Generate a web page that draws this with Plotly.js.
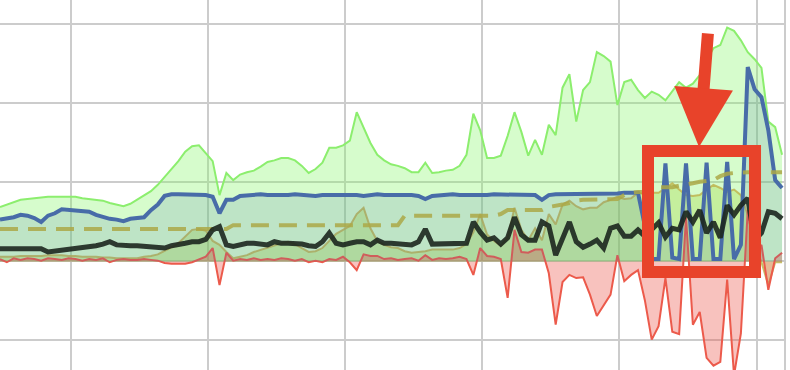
<!DOCTYPE html>
<html>
<head>
<meta charset="utf-8">
<script src="https://cdn.plot.ly/plotly-3.0.1.min.js"></script>
<style>html,body{margin:0;padding:0;background:#fff;}#chart{width:790px;height:370px;}</style>
</head>
<body>
<div id="chart"></div>
<script>
// Values (arbitrary units, gridlines every 100; x is the sample index)
const greenEnvelope = [
  69, 72, 75, 78, 79, 80, 81, 82, 82, 82,
  82, 82, 80, 79, 78, 77, 74, 72, 70, 73,
  78, 83, 89, 97, 107, 118, 127, 139, 146, 147,
  137, 127, 84, 112, 103, 110, 113, 115, 120, 126,
  128, 131, 131, 128, 121, 112, 117, 125, 144, 144,
  147, 153, 189, 170, 150, 135, 128, 123, 121, 118,
  113, 113, 125, 112, 113, 115, 116, 121, 135, 187,
  166, 131, 131, 134, 159, 189, 164, 134, 154, 135,
  173, 160, 220, 237, 177, 217, 227, 265, 260, 253,
  198, 227, 230, 217, 207, 215, 211, 204, 215, 227,
  220, 225, 236, 255, 270, 274, 296, 292, 280, 265,
  256, 245, 177, 170, 135
];
const blueSeries = [
  53, 54, 56, 59, 58, 55, 50, 58, 61, 66,
  65, 65, 64, 63, 59, 56, 54, 53, 51, 54,
  55, 56, 65, 72, 83, 85, 85, 85, 85, 84,
  84, 82, 61, 78, 78, 83, 84, 84, 85, 84,
  84, 83, 84, 85, 84, 84, 83, 84, 84, 85,
  84, 84, 84, 83, 84, 85, 84, 84, 84, 85,
  84, 83, 79, 83, 84, 84, 85, 84, 84, 83,
  84, 84, 85, 85, 84, 84, 85, 84, 84, 78,
  84, 85, 85, 86, 85, 85, 86, 86, 86, 86,
  86, 87, 87, 87, 45, 3, 3, 124, 5, 3,
  124, 3, 3, 125, 3, 3, 126, 3, 21, 246,
  218, 208, 166, 103, 93
];
const oliveArea = [
  6, 6, 6, 7, 7, 7, 7, 8, 8, 8,
  7, 7, 6, 6, 6, 5, 5, 4, 4, 4,
  4, 6, 7, 9, 13, 18, 23, 32, 40, 41,
  39, 26, 21, 12, 4, 6, 8, 12, 15, 18,
  21, 23, 25, 22, 17, 12, 13, 17, 26, 35,
  40, 45, 60, 68, 42, 26, 21, 18, 17, 13,
  11, 12, 13, 15, 15, 15, 15, 17, 22, 37,
  60, 34, 26, 20, 30, 68, 40, 27, 42, 27,
  60, 47, 72, 77, 70, 66, 68, 68, 75, 78,
  82, 79, 80, 87, 85, 87, 87, 93, 99, 91,
  84, 83, 84, 91, 97, 93, 88, 91, 84, 59,
  21, -1, -30, -1, -1
];
const redSeries = [
  3, -1, 4, 2, 4, 3, 1, 4, 3, 2,
  4, 3, 1, 3, 2, 4, -1, 2, 3, 2,
  2, 3, 2, 1, -2, -3, -3, -3, -1, 3,
  6, 17, -30, 11, 1, 3, 2, 4, 2, 3,
  2, 4, 3, 1, 3, -1, 1, -1, 3, 2,
  6, -1, -11, 9, 7, 7, 3, 4, 2, 3,
  4, 1, 8, 2, 4, 3, 4, 6, 3, -17,
  17, 7, 6, 3, -46, 40, 12, 11, 15, 15,
  -15, -80, -26, -17, -21, -20, -42, -69, -55, -42,
  8, -25, -17, -11, -49, -99, -82, -21, -89, -92,
  56, -80, -64, -122, -132, -127, -23, -144, -91, 65,
  8, 21, -36, 4, 11
];
const dashedLevel = [
  41, 41, 41, 41, 41, 41, 41, 41, 41, 41,
  41, 41, 41, 41, 41, 41, 41, 41, 41, 41,
  41, 41, 41, 41, 41, 41, 41, 41, 41, 41,
  41, 41, 41, 41, 46, 46, 46, 46, 46, 46,
  46, 46, 46, 46, 46, 46, 46, 46, 46, 46,
  46, 46, 46, 46, 46, 46, 46, 46, 46, 58,
  58, 58, 58, 58, 58, 58, 58, 58, 58, 58,
  58, 58, 58, 60, 65, 65, 65, 65, 65, 65,
  69, 70, 72, 74, 77, 78, 78, 78, 78, 78,
  79, 84, 87, 88, 88, 91, 94, 94, 94, 96,
  97, 99, 101, 102, 103, 108, 111, 112, 113, 113,
  113, 113, 113, 113, 113
];
const blackSeries = [
  16, 16, 16, 15, 15, 16, 16, 12, 13, 15,
  16, 16, 18, 19, 20, 22, 25, 21, 20, 20,
  20, 19, 18, 17, 17, 20, 21, 23, 25, 25,
  28, 40, 44, 21, 19, 21, 23, 23, 22, 21,
  25, 23, 23, 23, 22, 20, 19, 25, 36, 23,
  21, 23, 25, 25, 21, 27, 23, 23, 22, 22,
  21, 25, 41, 22, 22, 22, 22, 22, 23, 50,
  37, 27, 30, 22, 30, 56, 34, 27, 27, 50,
  45, 8, 30, 50, 25, 18, 22, 27, 17, 42,
  45, 32, 32, 40, 32, 40, 49, 31, 42, 40,
  63, 50, 65, 36, 50, 30, 71, 59, 71, 80,
  27, 36, 63, 61, 54
];

const traces = [
  {y: greenEnvelope, type: 'scatter', mode: 'lines', fill: 'tozeroy',
   fillcolor: 'rgba(130,245,100,0.33)', line: {color: 'rgb(140,238,110)', width: 2}},
  {y: oliveArea, type: 'scatter', mode: 'lines', fill: 'tozeroy',
   fillcolor: 'rgba(160,210,50,0.3)', line: {color: 'rgba(190,180,80,0.85)', width: 2}},
  {y: redSeries, type: 'scatter', mode: 'lines', fill: 'tozeroy',
   fillcolor: 'rgba(235,80,70,0.35)', line: {color: 'rgb(236,90,75)', width: 2}},
  {y: blueSeries, type: 'scatter', mode: 'lines', fill: 'tozeroy',
   fillcolor: 'rgba(70,110,170,0.17)', line: {color: 'rgb(72,108,168)', width: 4}},
  {y: dashedLevel, type: 'scatter', mode: 'lines',
   line: {color: 'rgba(172,168,70,0.85)', width: 4, dash: '18px,10px'}},
  {y: blackSeries, type: 'scatter', mode: 'lines',
   line: {color: 'rgba(28,38,30,0.9)', width: 5}}
];

const layout = {
  width: 790, height: 370,
  margin: {l: 0, r: 5, t: 0, b: 0, pad: 0},
  paper_bgcolor: '#ffffff', plot_bgcolor: '#ffffff',
  showlegend: false,
  xaxis: {range: [0, 114.43], showticklabels: false, ticks: '', zeroline: false, showline: false,
          tick0: 10.28, dtick: 20, showgrid: true, gridcolor: '#cccccc', gridwidth: 2},
  yaxis: {range: [-137.4, 331], showticklabels: false, ticks: '', zeroline: false, showline: false,
          tick0: 0, dtick: 100, showgrid: true, gridcolor: '#cccccc', gridwidth: 2},
  shapes: [
    {type: 'line', xref: 'paper', yref: 'paper', x0: 1, x1: 1, y0: 0, y1: 1,
     line: {color: '#cccccc', width: 2}, layer: 'below'},
    {type: 'rect', xref: 'x', yref: 'y', x0: 94.46, x1: 110.06, y0: -13.3, y1: 139.9,
     line: {color: '#e8432a', width: 12}, fillcolor: 'rgba(0,0,0,0)', layer: 'above'}
  ],
  annotations: [
    {x: 101.9, y: 145, xref: 'x', yref: 'y', text: '', showarrow: true,
     ax: 9, ay: -115, arrowhead: 2, arrowsize: 0.98, arrowwidth: 12,
     arrowcolor: '#e8432a', standoff: 0}
  ]
};

Plotly.newPlot('chart', traces, layout, {staticPlot: true, displayModeBar: false});
</script>
</body>
</html>
